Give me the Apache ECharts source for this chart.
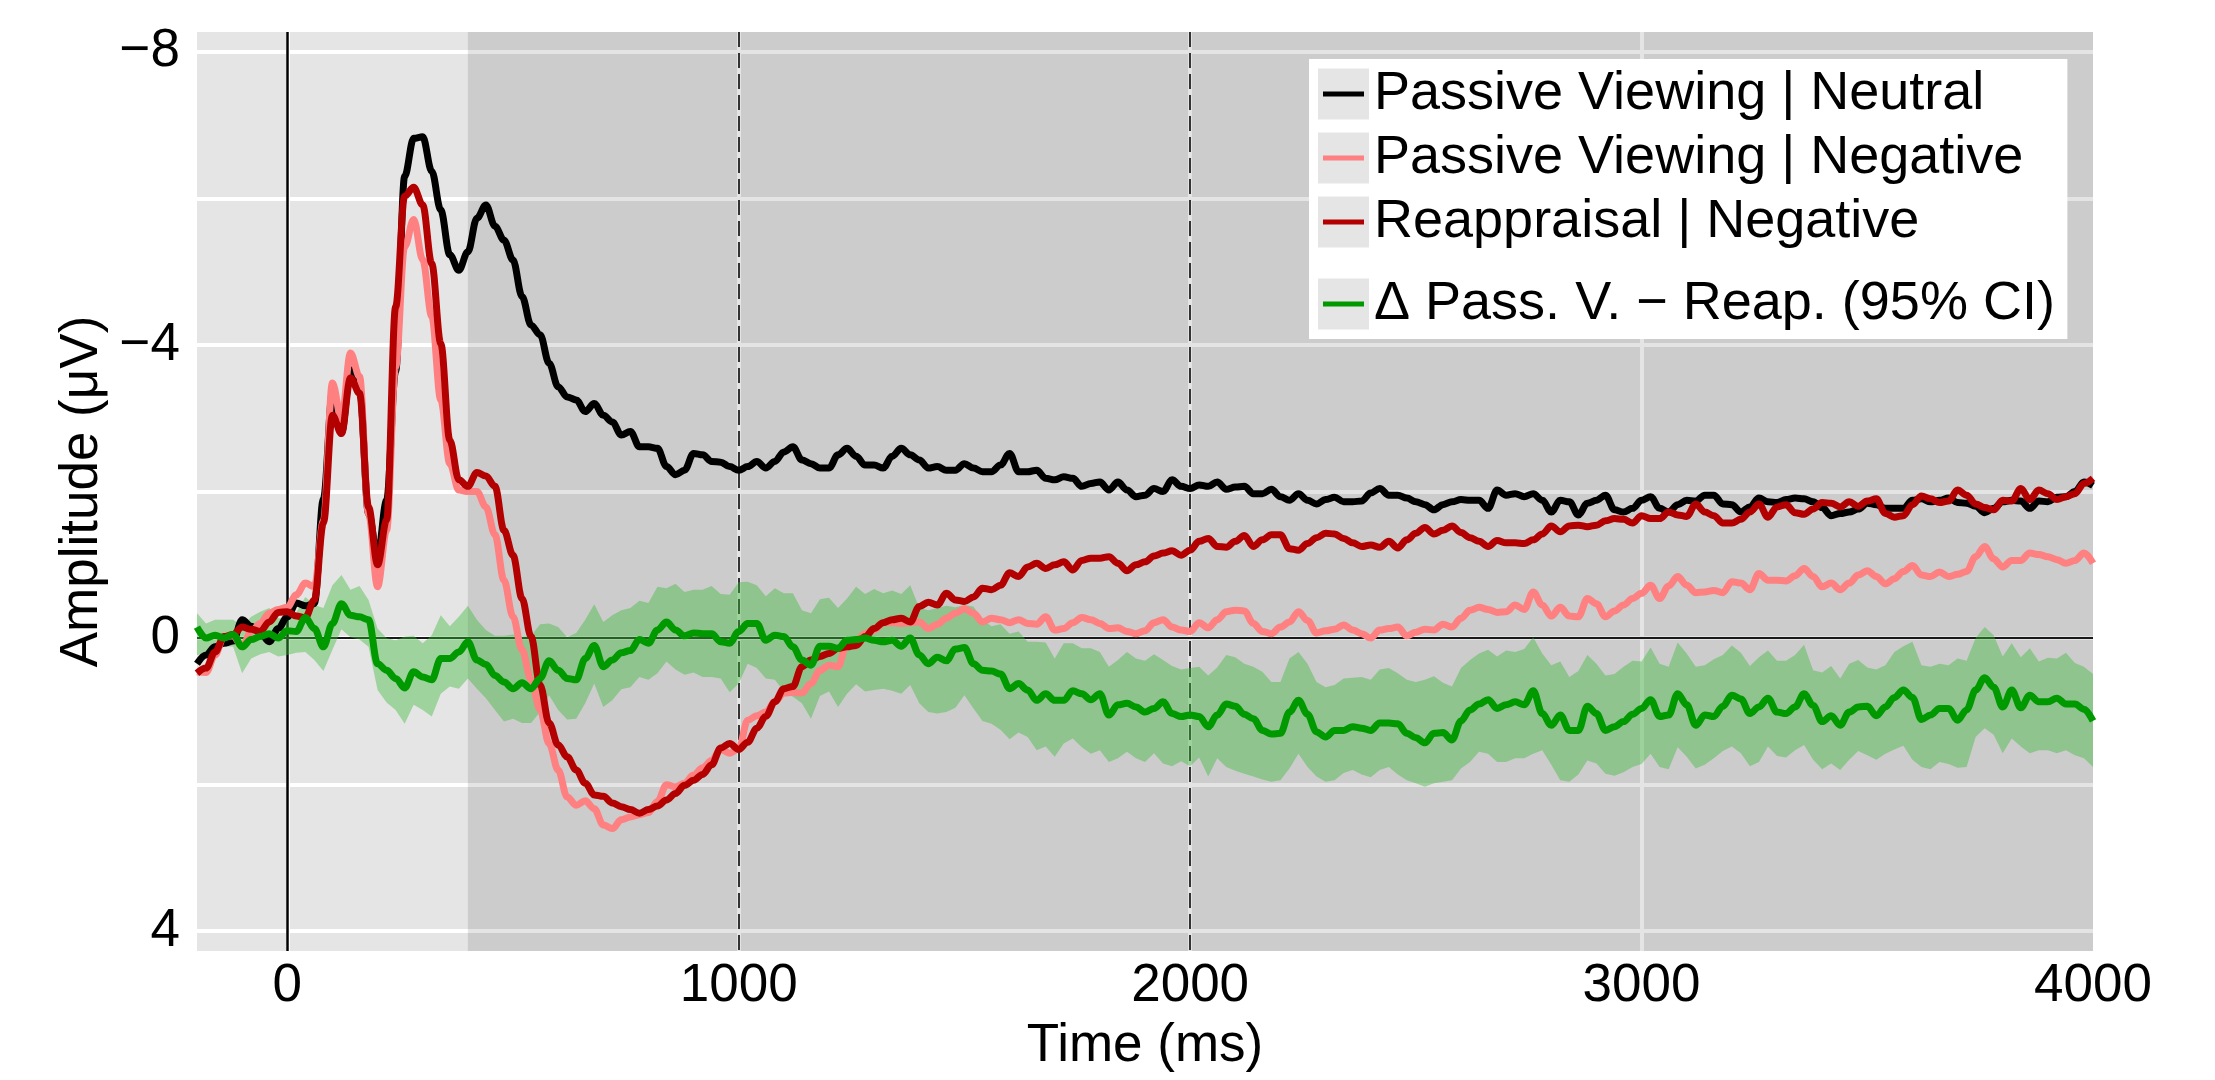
<!DOCTYPE html>
<html>
<head>
<meta charset="utf-8">
<script src="https://cdn.jsdelivr.net/npm/echarts@6/dist/echarts.min.js"></script>
<style>
  html, body { margin: 0; padding: 0; background: #fff; }
  #chart { width: 2215px; height: 1080px; }
</style>
</head>
<body>
<div id="chart"></div>
<script>
// sampling grid: -200 .. 4000 ms, every 20 ms
const times = Array.from({ length: 211 }, (_, i) => -200 + 20 * i);

// Passive Viewing | Neutral (µV)
const neutral = [
  0.35, 0.23, 0.12, 0.07, 0.04, -0.25, -0.16, -0.07, 0.05, -0.13,
  -0.29, -0.48, -0.44, -0.47, -1.9, -3.34, -2.8, -3.66, -3.43, -1.7,
  -1.11, -1.88, -3.64, -6.3, -6.82, -6.84, -6.37, -5.84, -5.23, -5.02,
  -5.27, -5.73, -5.91, -5.62, -5.43, -5.16, -4.66, -4.27, -4.14, -3.75,
  -3.43, -3.29, -3.25, -3.09, -3.2, -3.04, -2.95, -2.77, -2.82, -2.61,
  -2.61, -2.59, -2.34, -2.23, -2.29, -2.52, -2.5, -2.41, -2.4, -2.34,
  -2.29, -2.34, -2.41, -2.32, -2.41, -2.54, -2.61, -2.43, -2.38, -2.32,
  -2.32, -2.5, -2.59, -2.48, -2.36, -2.36, -2.32, -2.48, -2.59, -2.5,
  -2.43, -2.32, -2.34, -2.29, -2.29, -2.38, -2.32, -2.27, -2.27, -2.36,
  -2.52, -2.27, -2.27, -2.29, -2.18, -2.16, -2.2, -2.18, -2.07, -2.11,
  -2.13, -2.02, -2.13, -2.02, -1.93, -1.95, -2.04, -2.0, -2.16, -2.07,
  -2.04, -2.09, -2.07, -2.13, -2.03, -2.06, -2.07, -1.97, -1.97, -2.03,
  -1.93, -1.88, -1.97, -1.88, -1.83, -1.89, -1.92, -1.86, -1.86, -1.87,
  -1.98, -2.04, -1.95, -1.95, -1.91, -1.86, -1.82, -1.75, -1.82, -1.86,
  -1.89, -1.88, -1.88, -1.77, -2.02, -1.95, -1.97, -1.93, -1.97, -1.88,
  -1.72, -1.88, -1.86, -1.68, -1.84, -1.88, -1.95, -1.75, -1.72, -1.77,
  -1.88, -1.93, -1.77, -1.72, -1.82, -1.88, -1.87, -1.95, -1.95, -1.83,
  -1.82, -1.72, -1.79, -1.91, -1.86, -1.85, -1.89, -1.91, -1.9, -1.86,
  -1.78, -1.67, -1.7, -1.72, -1.76, -1.84, -1.82, -1.77, -1.77, -1.77,
  -1.88, -1.9, -1.86, -1.88, -1.91, -1.85, -1.84, -1.8, -1.71, -1.77,
  -1.86, -1.88, -1.87, -1.77, -1.87, -1.86, -1.92, -1.93, -2.0, -2.13,
  -2.08
];

// Passive Viewing | Negative
const passiveNeg = [
  0.46, 0.47, 0.23, -0.02, -0.03, 0.12, -0.09, -0.2, -0.34, -0.39,
  -0.42, -0.59, -0.75, -0.7, -1.6, -3.48, -2.98, -3.89, -3.57, -1.7,
  -0.7, -1.47, -3.7, -5.34, -5.71, -5.16, -4.39, -3.25, -2.38, -2.02,
  -2.0, -2.0, -1.79, -1.41, -0.79, -0.29, 0.16, 0.57, 0.98, 1.44,
  1.8, 2.17, 2.28, 2.22, 2.33, 2.55, 2.6, 2.48, 2.44, 2.41,
  2.38, 2.23, 2.0, 2.03, 1.98, 1.87, 1.77, 1.67, 1.52, 1.57,
  1.51, 1.12, 1.06, 1.01, 0.87, 0.75, 0.74, 0.75, 0.62, 0.44,
  0.37, 0.39, 0.07, 0.03, -0.06, -0.11, -0.21, -0.21, -0.2, -0.21,
  -0.22, -0.13, -0.19, -0.27, -0.34, -0.4, -0.34, -0.22, -0.27, -0.25,
  -0.21, -0.25, -0.2, -0.19, -0.29, -0.11, -0.13, -0.21, -0.28, -0.25,
  -0.2, -0.13, -0.14, -0.09, -0.06, -0.1, -0.21, -0.25, -0.15, -0.11,
  -0.09, -0.21, -0.14, -0.25, -0.36, -0.38, -0.37, -0.2, -0.09, -0.06,
  -0.15, -0.22, -0.36, -0.24, -0.07, -0.1, -0.12, -0.18, -0.11, -0.06,
  0.0, -0.11, -0.13, -0.15, -0.03, -0.08, -0.12, -0.11, -0.19, -0.15,
  -0.27, -0.38, -0.42, -0.39, -0.35, -0.36, -0.45, -0.39, -0.63, -0.45,
  -0.3, -0.42, -0.3, -0.29, -0.54, -0.47, -0.29, -0.37, -0.45, -0.54,
  -0.61, -0.72, -0.54, -0.71, -0.84, -0.72, -0.62, -0.63, -0.65, -0.62,
  -0.77, -0.75, -0.66, -0.88, -0.79, -0.79, -0.78, -0.85, -0.95, -0.84,
  -0.7, -0.75, -0.66, -0.75, -0.86, -0.92, -0.84, -0.74, -0.81, -0.91,
  -0.99, -0.86, -0.84, -0.9, -0.84, -0.87, -0.91, -1.11, -1.25, -1.08,
  -0.97, -1.06, -1.06, -1.16, -1.14, -1.11, -1.07, -1.02, -1.06, -1.16,
  -1.02
];

// Reappraisal | Negative
const reappNeg = [
  0.48, 0.41, 0.19, -0.02, -0.05, -0.15, -0.12, -0.09, -0.22, -0.35,
  -0.36, -0.3, -0.28, -0.52, -1.57, -3.04, -2.79, -3.55, -3.34, -1.79,
  -1.0, -1.61, -4.52, -6.03, -6.15, -5.91, -5.11, -4.02, -2.7, -2.16,
  -2.07, -2.26, -2.21, -2.07, -1.47, -1.13, -0.54, -0.02, 0.64, 1.16,
  1.46, 1.62, 1.8, 1.98, 2.14, 2.16, 2.25, 2.3, 2.34, 2.39,
  2.34, 2.29, 2.21, 2.12, 2.01, 1.94, 1.86, 1.73, 1.5, 1.44,
  1.52, 1.42, 1.23, 1.07, 0.87, 0.69, 0.66, 0.39, 0.3, 0.25,
  0.21, 0.14, 0.12, 0.1, -0.02, -0.13, -0.21, -0.25, -0.27, -0.22,
  -0.43, -0.49, -0.45, -0.61, -0.52, -0.5, -0.56, -0.68, -0.66, -0.72,
  -0.89, -0.84, -0.97, -1.02, -0.95, -1.0, -1.04, -0.93, -1.06, -1.09,
  -1.09, -1.11, -1.02, -0.92, -1.0, -1.04, -1.12, -1.16, -1.19, -1.13,
  -1.2, -1.32, -1.36, -1.25, -1.24, -1.32, -1.4, -1.25, -1.34, -1.41,
  -1.41, -1.22, -1.2, -1.29, -1.37, -1.43, -1.42, -1.36, -1.3, -1.25,
  -1.27, -1.24, -1.32, -1.23, -1.34, -1.43, -1.51, -1.42, -1.47, -1.53,
  -1.44, -1.37, -1.32, -1.25, -1.33, -1.3, -1.3, -1.29, -1.34, -1.42,
  -1.53, -1.45, -1.53, -1.54, -1.52, -1.54, -1.6, -1.63, -1.62, -1.57,
  -1.67, -1.63, -1.63, -1.72, -1.68, -1.66, -1.83, -1.72, -1.67, -1.57,
  -1.57, -1.62, -1.72, -1.83, -1.65, -1.79, -1.82, -1.71, -1.69, -1.76,
  -1.85, -1.84, -1.79, -1.86, -1.8, -1.87, -1.9, -1.7, -1.65, -1.67,
  -1.82, -1.94, -1.9, -1.85, -1.87, -2.02, -1.95, -1.83, -1.78, -1.75,
  -1.88, -1.87, -2.04, -1.89, -2.02, -1.97, -1.89, -1.93, -1.97, -2.11,
  -2.18
];

// difference Passive Viewing - Reappraisal
const delta = [
  -0.15, 0.0, -0.04, 0.0, -0.05, 0.12, 0.02, -0.02, -0.06, 0.0,
  -0.1, -0.09, -0.28, -0.13, 0.12, -0.2, -0.47, -0.31, -0.29, -0.25,
  0.35, 0.44, 0.55, 0.68, 0.46, 0.53, 0.57, 0.28, 0.28, 0.19,
  0.05, 0.3, 0.36, 0.51, 0.6, 0.69, 0.61, 0.69, 0.55, 0.31,
  0.44, 0.55, 0.57, 0.28, 0.1, 0.39, 0.3, 0.2, 0.17, 0.02,
  0.07, -0.11, -0.22, -0.11, -0.03, -0.07, -0.06, -0.06, 0.05, 0.07,
  -0.09, -0.2, -0.2, 0.03, -0.04, -0.02, 0.12, 0.3, 0.37, 0.11,
  0.11, 0.14, 0.03, 0.02, 0.0, 0.03, 0.05, 0.03, 0.11, 0.0,
  0.23, 0.35, 0.26, 0.31, 0.15, 0.13, 0.35, 0.44, 0.45, 0.49,
  0.69, 0.62, 0.71, 0.85, 0.76, 0.85, 0.85, 0.72, 0.76, 0.84,
  0.76, 1.05, 0.91, 0.89, 0.94, 1.01, 0.96, 0.87, 1.03, 1.07,
  1.05, 1.07, 1.21, 1.05, 0.9, 0.93, 1.04, 1.1, 1.26, 1.31,
  1.3, 1.01, 0.85, 1.04, 1.28, 1.35, 1.26, 1.26, 1.21, 1.23,
  1.26, 1.16, 1.16, 1.17, 1.3, 1.36, 1.43, 1.3, 1.29, 1.39,
  1.13, 0.98, 0.9, 0.84, 0.96, 0.91, 0.87, 0.91, 0.72, 1.03,
  1.19, 1.05, 1.26, 1.26, 0.93, 1.03, 1.26, 1.21, 1.14, 1.04,
  0.96, 0.84, 1.07, 1.05, 0.76, 0.91, 1.19, 1.05, 1.07, 0.93,
  0.78, 0.83, 1.03, 0.94, 0.82, 1.01, 1.03, 0.94, 0.76, 0.92,
  1.14, 1.06, 1.19, 1.01, 0.94, 0.93, 1.06, 0.94, 0.81, 0.71,
  0.81, 1.11, 1.05, 0.96, 0.96, 1.12, 0.98, 0.71, 0.54, 0.67,
  0.94, 0.71, 0.95, 0.78, 0.87, 0.87, 0.82, 0.9, 0.9, 0.97,
  1.13
];

// 95% CI of the difference: lower and upper bound
const ciLow = [
  -0.34, -0.2, -0.25, -0.25, -0.25, -0.16, -0.29, -0.36, -0.41, -0.27,
  -0.27, -0.35, -0.56, -0.45, -0.41, -0.72, -0.86, -0.66, -0.71, -0.52,
  -0.13, 0.0, 0.03, -0.02, -0.03, 0.07, -0.04, -0.31, -0.16, -0.29,
  -0.44, -0.25, -0.11, -0.03, -0.03, -0.05, -0.02, -0.03, -0.19, -0.2,
  -0.15, -0.01, -0.07, -0.25, -0.46, -0.22, -0.31, -0.38, -0.41, -0.51,
  -0.48, -0.7, -0.68, -0.74, -0.63, -0.66, -0.66, -0.71, -0.6, -0.59,
  -0.76, -0.77, -0.72, -0.57, -0.68, -0.61, -0.61, -0.38, -0.34, -0.53,
  -0.55, -0.41, -0.54, -0.7, -0.6, -0.67, -0.61, -0.65, -0.6, -0.72,
  -0.41, -0.38, -0.41, -0.44, -0.42, -0.45, -0.43, -0.25, -0.16, -0.19,
  -0.06, -0.09, 0.05, 0.05, 0.06, 0.28, 0.07, 0.07, 0.14, 0.14,
  0.19, 0.39, 0.3, 0.19, 0.28, 0.31, 0.22, 0.3, 0.38, 0.43,
  0.41, 0.39, 0.51, 0.4, 0.23, 0.26, 0.35, 0.39, 0.46, 0.6,
  0.6, 0.28, 0.19, 0.35, 0.6, 0.67, 0.64, 0.55, 0.54, 0.53,
  0.57, 0.43, 0.41, 0.48, 0.57, 0.6, 0.57, 0.52, 0.61, 0.66,
  0.41, 0.3, 0.21, 0.16, 0.25, 0.17, 0.19, 0.15, -0.01, 0.21,
  0.37, 0.32, 0.53, 0.45, 0.23, 0.35, 0.51, 0.49, 0.39, 0.31,
  0.32, 0.13, 0.35, 0.39, 0.06, 0.21, 0.39, 0.37, 0.29, 0.23,
  0.1, 0.2, 0.38, 0.26, 0.17, 0.31, 0.31, 0.23, 0.09, 0.44,
  0.47, 0.38, 0.55, 0.35, 0.3, 0.4, 0.43, 0.37, 0.19, 0.11,
  0.05, 0.37, 0.39, 0.35, 0.37, 0.28, 0.31, 0.0, -0.15, -0.04,
  0.25, 0.07, 0.26, 0.14, 0.32, 0.27, 0.28, 0.2, 0.34, 0.39,
  0.49
];
const ciHigh = [
  0.23, 0.21, 0.14, 0.11, 0.12, 0.48, 0.28, 0.22, 0.19, 0.25,
  0.23, 0.2, 0.19, 0.3, 0.45, 0.16, -0.12, -0.01, 0.02, 0.12,
  0.71, 0.88, 0.98, 1.17, 0.91, 0.98, 1.07, 0.76, 0.66, 0.69,
  0.55, 0.69, 0.82, 0.98, 1.14, 1.1, 1.16, 1.16, 1.01, 0.78,
  0.98, 1.11, 1.1, 0.89, 0.62, 0.94, 0.85, 0.7, 0.67, 0.53,
  0.57, 0.48, 0.32, 0.43, 0.5, 0.47, 0.53, 0.53, 0.55, 0.74,
  0.62, 0.35, 0.41, 0.55, 0.57, 0.73, 0.8, 0.89, 1.1, 0.79,
  0.73, 0.94, 0.76, 0.63, 0.73, 0.71, 0.69, 0.72, 0.76, 0.64,
  0.89, 1.01, 1.03, 1.01, 0.95, 0.78, 0.96, 1.13, 1.17, 1.25,
  1.38, 1.29, 1.35, 1.53, 1.48, 1.62, 1.44, 1.37, 1.49, 1.58,
  1.53, 1.69, 1.64, 1.55, 1.64, 1.69, 1.57, 1.71, 1.75, 1.68,
  1.75, 1.63, 1.89, 1.64, 1.76, 1.81, 1.85, 1.89, 1.93, 1.96,
  1.94, 1.78, 1.58, 1.76, 1.89, 1.96, 1.94, 1.84, 1.8, 1.86,
  1.9, 1.8, 1.76, 1.86, 1.94, 1.98, 2.03, 1.98, 1.96, 1.94,
  1.78, 1.69, 1.55, 1.58, 1.69, 1.69, 1.64, 1.64, 1.58, 1.53,
  1.73, 1.94, 1.96, 1.86, 1.67, 1.71, 1.85, 1.88, 1.83, 1.76,
  1.72, 1.58, 1.76, 1.79, 1.49, 1.62, 1.78, 1.73, 1.64, 1.54,
  1.48, 1.57, 1.75, 1.69, 1.48, 1.61, 1.63, 1.53, 1.46, 1.66,
  1.79, 1.71, 1.8, 1.66, 1.54, 1.6, 1.66, 1.58, 1.52, 1.47,
  1.66, 1.76, 1.79, 1.69, 1.72, 1.77, 1.76, 1.35, 1.23, 1.32,
  1.57, 1.37, 1.48, 1.57, 1.53, 1.53, 1.57, 1.53, 1.6, 1.64,
  1.76
];

const seriesNames = [
  "Passive Viewing | Neutral",
  "Passive Viewing | Negative",
  "Reappraisal | Negative",
  "\u0394 Pass. V. \u2212 Reap. (95% CI)"
];
const seriesColors = ["#000000", "#ff8080", "#b30000", "#009900"];

// time windows
const windowStart = 400;
const windowEnd = 4000;
const markers = [1000, 2000];

const font = "Liberation Sans, Arial, sans-serif";
const fs = 53;

const pairs = arr => times.map((t, i) => [t, arr[i]]);
const minus = v => (v < 0 ? "\u2212" + Math.abs(v) : String(v));

// legend handle: a short bar centred in a square box
const barIcon = "path://M0,0h0.1v0.1h-0.1z M51,51h-0.1v-0.1h0.1z M5,23h41v5h-41z";

function legendPair(names, top, pad, back) {
  return {
    show: true,
    orient: "vertical",
    left: 1309,
    top: top,
    padding: pad,
    itemGap: 4,
    itemWidth: 51,
    itemHeight: 51,
    selectedMode: false,
    z: back ? 20 : 21,
    icon: back ? "rect" : barIcon,
    backgroundColor: back && names.length > 1 ? "#ffffff" : "transparent",
    itemStyle: back ? { color: "#e5e5e5", borderWidth: 0 } : { borderWidth: 0 },
    textStyle: {
      fontFamily: font,
      fontSize: 54,
      lineHeight: 60,
      color: back ? "rgba(0,0,0,0)" : "#000"
    },
    data: names.map(n => ({
      name: n,
      itemStyle: back ? { color: "#e5e5e5" } : { color: seriesColors[seriesNames.indexOf(n)] }
    }))
  };
}

const lineSeries = [neutral, passiveNeg, reappNeg, delta].map((arr, k) => ({
  name: seriesNames[k],
  type: "line",
  data: pairs(arr),
  symbol: "none",
  smooth: 0.35,
  smoothMonotone: "x",
  color: seriesColors[k],
  itemStyle: { color: seriesColors[k] },
  lineStyle: { color: seriesColors[k], width: 7 },
  z: 10 + k,
  silent: true
}));

// confidence band drawn as one polygon through the axis scales
function renderBand(params, api) {
  const top = times.map((t, i) => api.coord([t, ciLow[i]]));
  const bottom = times.map((t, i) => api.coord([t, ciHigh[i]])).reverse();
  return {
    type: "polygon",
    shape: { points: top.concat(bottom) },
    style: { fill: "rgba(60,185,60,0.42)" },
    silent: true
  };
}

const chart = echarts.init(document.getElementById("chart"), null, { renderer: "canvas" });

const option = {
  animation: false,
  backgroundColor: "#ffffff",
  textStyle: { fontFamily: font },
  grid: {
    show: true,
    left: 197,
    top: 32,
    width: 1896,
    height: 919,
    backgroundColor: "#e5e5e5",
    borderWidth: 0
  },
  legend: [
    legendPair(seriesNames.slice(0, 3), 59, [5, 44, 87, 9], true),
    legendPair(seriesNames.slice(0, 3), 59, [5, 44, 87, 9], false),
    legendPair(seriesNames.slice(3), 274, [0, 0, 0, 9], true),
    legendPair(seriesNames.slice(3), 274, [0, 0, 0, 9], false)
  ],
  xAxis: {
    type: "value",
    min: -200,
    max: 4000,
    minInterval: 1000,
    maxInterval: 1000,
    name: "Time (ms)",
    nameLocation: "middle",
    nameGap: 69,
    nameTextStyle: { fontFamily: font, fontSize: fs, color: "#000" },
    axisLine: { show: false },
    axisTick: { show: false },
    axisLabel: {
      fontFamily: font,
      fontSize: fs,
      color: "#000",
      margin: 9,
      formatter: v => (v % 1000 === 0 ? minus(v) : "")
    },
    splitLine: {
      show: true,
      showMinLine: false,
      showMaxLine: false,
      lineStyle: { color: "#ffffff", width: 4 }
    }
  },
  yAxis: {
    type: "value",
    inverse: true,
    min: -8.27,
    max: 4.27,
    minInterval: 2,
    maxInterval: 2,
    name: "Amplitude (\u03bcV)",
    nameLocation: "middle",
    nameGap: 67,
    nameTextStyle: { fontFamily: font, fontSize: fs, color: "#000" },
    axisLine: { show: false },
    axisTick: { show: false },
    axisLabel: {
      fontFamily: font,
      fontSize: fs,
      color: "#000",
      margin: 17,
      formatter: v => (Math.abs(v % 4) < 1e-9 ? minus(v) : "")
    },
    splitLine: {
      show: true,
      showMinLine: false,
      showMaxLine: false,
      lineStyle: { color: "#ffffff", width: 4 }
    }
  },
  series: [
    {
      // background window and reference lines
      name: "guides",
      type: "line",
      data: [],
      silent: true,
      markArea: {
        silent: true,
        itemStyle: { color: "rgba(0,0,0,0.105)" },
        data: [[{ xAxis: windowStart }, { xAxis: windowEnd }]]
      },
      markLine: {
        silent: true,
        symbol: ["none", "none"],
        label: { show: false },
        lineStyle: { color: "#000", width: 2.5, type: "solid" },
        data: [{ xAxis: 0 }, { yAxis: 0, lineStyle: { color: "#1a1a1a", width: 2 } }].concat(
          markers.map(m => ({ xAxis: m, lineStyle: { color: "#333", width: 2, type: [15, 6] } }))
        )
      }
    },
    {
      name: "ci-band",
      type: "custom",
      data: [[0, 0]],
      renderItem: renderBand,
      clip: true,
      silent: true,
      z: 6
    }
  ].concat(lineSeries)
};

chart.setOption(option);
</script>
</body>
</html>
